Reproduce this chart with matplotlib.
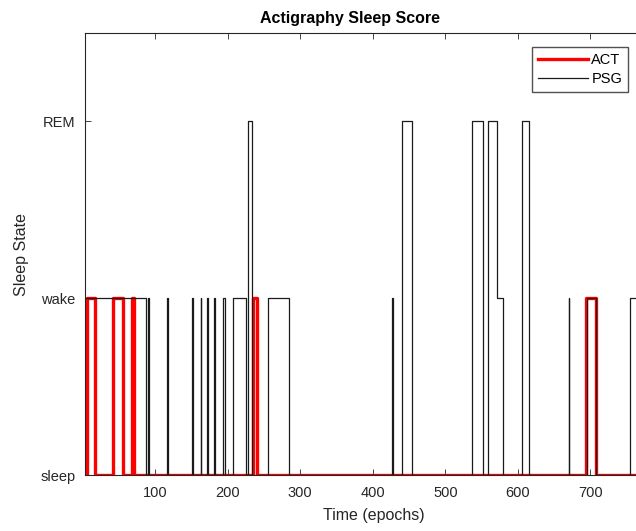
import numpy as np
import matplotlib.pyplot as plt

plt.rcParams['font.family'] = ['Liberation Sans', 'DejaVu Sans']

# sleep states: 0 = sleep, 1 = wake, 2 = REM
state_labels = ['sleep', 'wake', 'REM']

# PSG scoring: epoch where a new state starts, and that state
psg_epochs = [1, 87, 91, 92, 117, 118, 151, 152, 163, 164, 172, 173, 182, 183,
              194, 197, 207, 226, 228, 234, 256, 284, 426, 428, 441, 454,
              537, 552, 559, 571, 580, 606, 616, 670, 671, 695, 708, 755, 800]
psg_states = [1, 0, 1, 0, 1, 0, 1, 0, 1, 0, 1, 0, 1, 0,
              1, 0, 1, 0, 2, 0, 1, 0, 1, 0, 2, 0,
              2, 0, 2, 1, 0, 2, 0, 1, 0, 1, 0, 1, 1]

# actigraphy scoring
act_epochs = [1, 6, 17, 42, 56, 68, 71, 235, 240, 694, 708, 800]
act_states = [0, 1, 0, 1, 0, 1, 0, 1, 0, 1, 0, 0]

fig = plt.figure(figsize=(6.36, 5.31), dpi=100)
# axes continue past the right edge of the figure (cropped like the original)
ax = fig.add_axes([85 / 636, 56 / 531, 578 / 636, 442 / 531])

ax.step(act_epochs, act_states, where='post', color='red', lw=2.4, label='ACT')
ax.step(psg_epochs, psg_states, where='post', color='#1a1a1a', lw=0.9, label='PSG')

ax.set_xlim(3.6, 800)
ax.set_ylim(0, 2.5)
ax.set_xticks(np.arange(100, 701, 100))
ax.set_yticks([0, 1, 2])
ax.set_yticklabels(state_labels)

gray = '#262626'
ax.tick_params(direction='in', top=True, right=True, length=4, width=0.6,
               labelsize=10.5, colors=gray)
ax.tick_params(axis='x', pad=8)
ax.tick_params(axis='y', pad=7)
for s in ax.spines.values():
    s.set_color(gray)
    s.set_linewidth(0.8)

ax.set_xlabel('Time (epochs)', fontsize=11.5, color=gray, labelpad=6)
ax.set_ylabel('Sleep State', fontsize=11.5, color=gray, labelpad=8)
ax.set_title('Actigraphy Sleep Score', fontsize=11.5, fontweight='bold',
             x=(350 - 85) / 578, pad=7)

ax.legend(loc='upper right', bbox_to_anchor=(628 / 636, 1 - 47 / 531),
          bbox_transform=fig.transFigure, fontsize=10.5, frameon=True,
          fancybox=False, edgecolor=gray, borderaxespad=0, handlelength=3.4,
          handletextpad=0.25, labelspacing=0.35, borderpad=0.4)

fig.savefig('out.png', dpi=100)
